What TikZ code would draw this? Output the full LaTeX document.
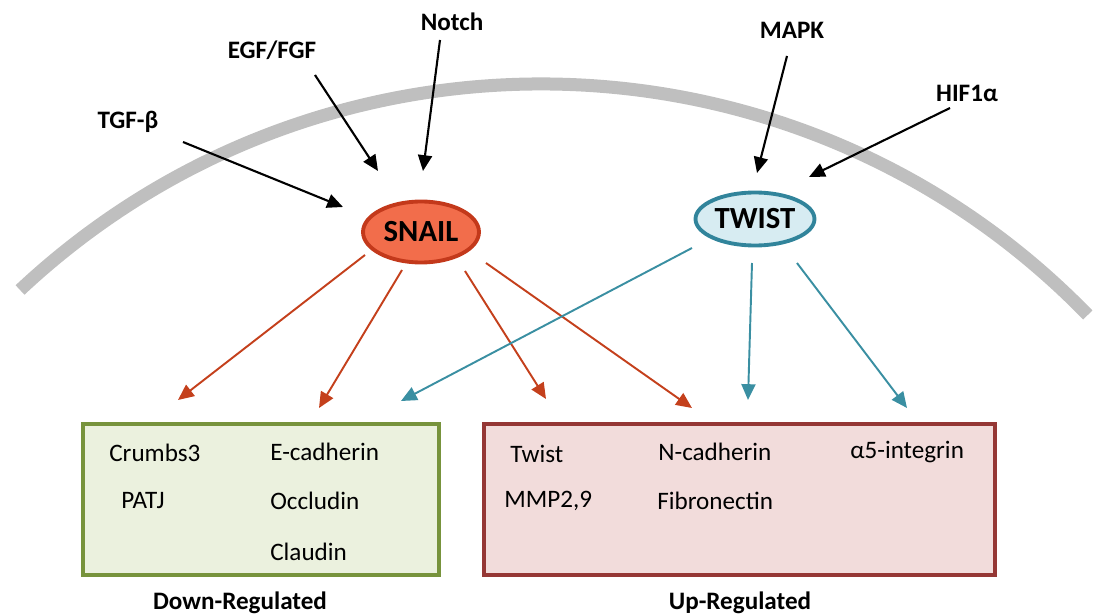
\documentclass[tikz,border=0pt]{standalone}
\usepackage{fontspec}
\setmainfont{Carlito}
\usetikzlibrary{shapes.geometric,arrows.meta}
\definecolor{snailfill}{HTML}{F26D4B}
\definecolor{snailline}{HTML}{C3391B}
\definecolor{twistfill}{HTML}{D7ECF2}
\definecolor{twistline}{HTML}{31849B}
\definecolor{redarrow}{HTML}{C4401C}
\definecolor{tealarrow}{HTML}{3A8FA2}
\definecolor{membrane}{HTML}{BFBFBF}
\definecolor{greenline}{HTML}{77933C}
\definecolor{greenfill}{HTML}{EBF1DE}
\definecolor{redline}{HTML}{953735}
\definecolor{redfill}{HTML}{F2DCDB}
\tikzset{
  lbl/.style={font=\fontsize{14.3}{17}\selectfont\bfseries, inner sep=0pt},
  item/.style={font=\fontsize{14.3}{17}\selectfont, inner sep=0pt, anchor=west},
  sig/.style={draw=black, line width=1.2pt, -{Triangle[length=9pt,width=8pt]}},
  snailarrow/.style={draw=redarrow, line width=1.1pt, -{Triangle[length=9pt,width=8pt]}},
  twistarrow/.style={draw=tealarrow, line width=1.1pt, -{Triangle[length=9pt,width=8pt]}},
  tf/.style={ellipse, inner sep=0pt, line width=2.2pt, font=\fontsize{17.5}{20}\selectfont\bfseries},
  regbox/.style={line width=2.3pt},
}
\begin{document}
\begin{tikzpicture}[x=0.02cm, y=-0.02cm]
\useasboundingbox (0,0) rectangle (1100,615);
% membrane arc
\draw[membrane, line width=7.4pt] (10.826cm,-16.922cm) ++(133.15:15.244cm) arc[start angle=133.15, end angle=44.17, radius=15.244cm];
% boxes
\draw[regbox, draw=greenline, fill=greenfill] (83,424) rectangle (439,575);
\draw[regbox, draw=redline, fill=redfill] (484,424) rectangle (995,575);
% transcription factors
\node[tf, draw=snailline, fill=snailfill, minimum width=2.32cm, minimum height=1.22cm] (snail) at (421,232) {SNAIL};
\node[tf, draw=twistline, fill=twistfill, minimum width=2.38cm, minimum height=1.06cm] (twist) at (755,219) {TWIST};
% signals
\node[lbl] (tgf) at (128,122) {TGF-β};
\node[lbl] (egf) at (272,50) {EGF/FGF};
\node[lbl] (notch) at (452,22) {Notch};
\node[lbl] (mapk) at (792,30) {MAPK};
\node[lbl] (hif) at (967,93) {HIF1α};
\coordinate (tgf-a) at (183,142); \coordinate (tgf-b) at (343,207);
\coordinate (egf-a) at (315,75);  \coordinate (egf-b) at (378,171);
\coordinate (notch-a) at (440,40); \coordinate (notch-b) at (423,171);
\coordinate (mapk-a) at (787,56); \coordinate (mapk-b) at (757,173);
\coordinate (hif-a) at (950,108); \coordinate (hif-b) at (809,177);
\draw[sig] (tgf-a) -- (tgf-b);
\draw[sig] (egf-a) -- (egf-b);
\draw[sig] (notch-a) -- (notch-b);
\draw[sig] (mapk-a) -- (mapk-b);
\draw[sig] (hif-a) -- (hif-b);
% SNAIL targets
\coordinate (s1a) at (365,255); \coordinate (s1b) at (178,400);
\coordinate (s2a) at (402,270); \coordinate (s2b) at (319,408);
\coordinate (s3a) at (465,271); \coordinate (s3b) at (546,399);
\coordinate (s4a) at (486,263); \coordinate (s4b) at (692,408);
\draw[snailarrow] (s1a) -- (s1b);
\draw[snailarrow] (s2a) -- (s2b);
\draw[snailarrow] (s3a) -- (s3b);
\draw[snailarrow] (s4a) -- (s4b);
% TWIST targets
\coordinate (t1a) at (692,248); \coordinate (t1b) at (401,401);
\coordinate (t2a) at (752,263); \coordinate (t2b) at (748,400);
\coordinate (t3a) at (797,263); \coordinate (t3b) at (907,408);
\draw[twistarrow] (t1a) -- (t1b);
\draw[twistarrow] (t2a) -- (t2b);
\draw[twistarrow] (t3a) -- (t3b);
% down-regulated items
\node[item] (crumbs) at (109,453) {Crumbs3};
\node[item] (ecad) at (270,452) {E-cadherin};
\node[item] (patj) at (121,501) {PATJ};
\node[item] (occl) at (270,501) {Occludin};
\node[item] (claud) at (270,552) {Claudin};
% up-regulated items
\node[item] (twistg) at (510,454) {Twist};
\node[item] (ncad) at (658,452) {N-cadherin};
\node[item] (integ) at (850,452) {α5-integrin};
\node[item] (mmp) at (504,501) {MMP2,9};
\node[item] (fibro) at (657,501) {Fibronectin};
% box captions
\node[lbl] (down) at (240,603) {Down-Regulated};
\node[lbl] (up) at (740,603) {Up-Regulated};
\end{tikzpicture}
\end{document}
